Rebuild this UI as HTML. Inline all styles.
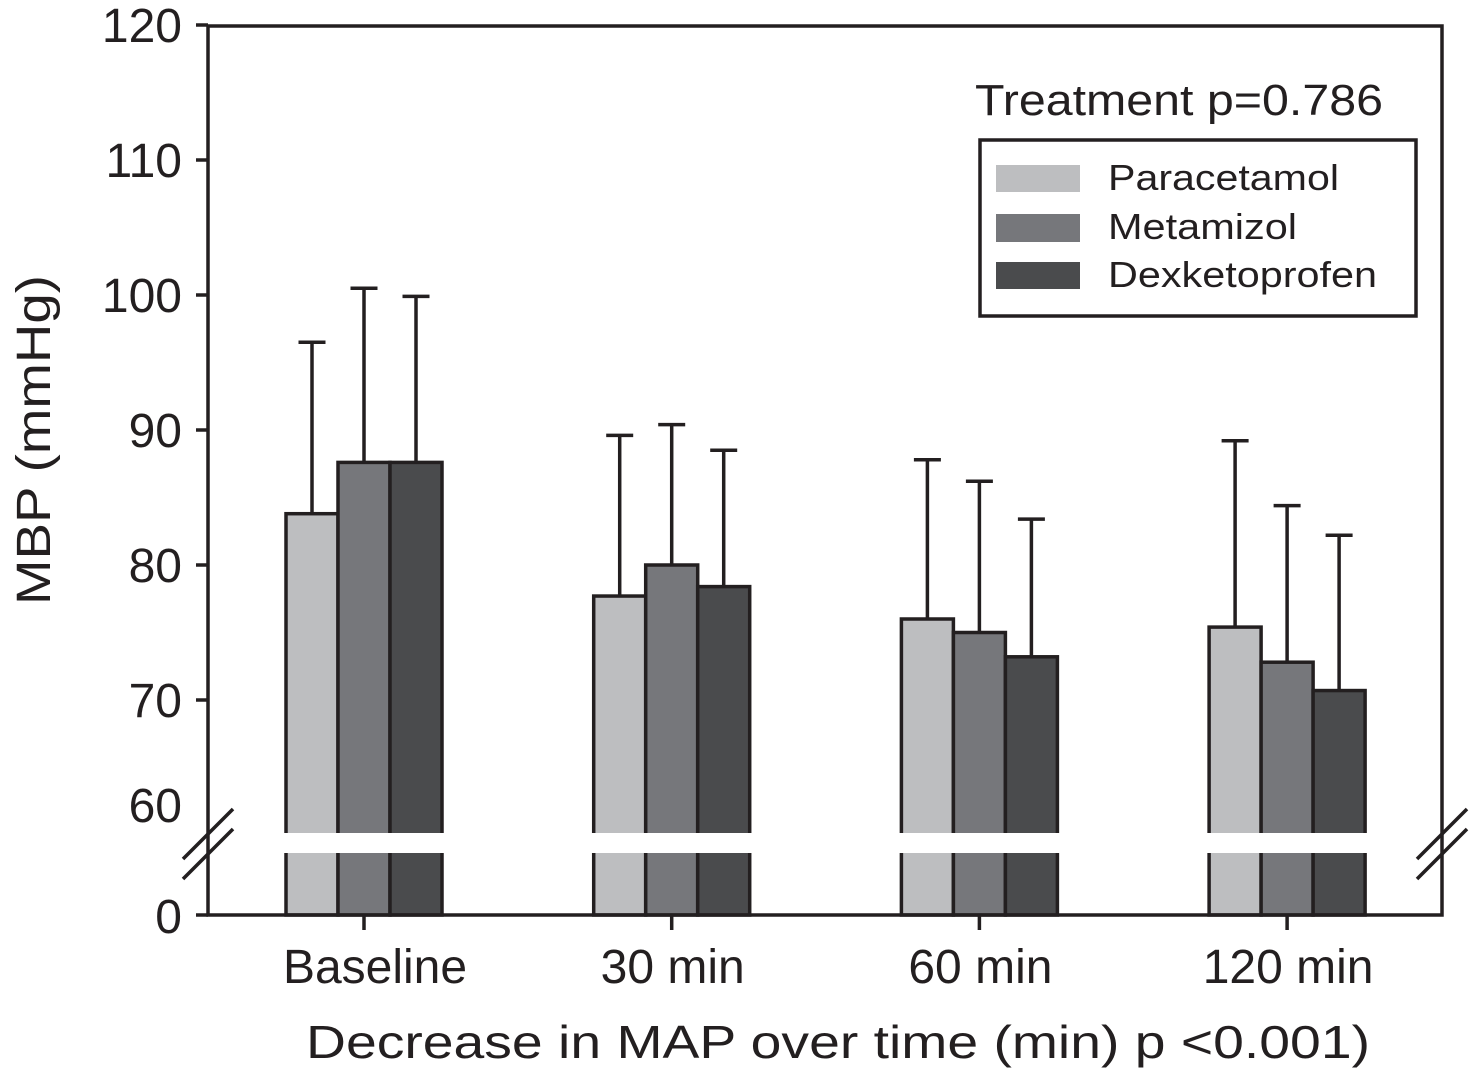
<!DOCTYPE html>
<html><head><meta charset="utf-8"><style>
html,body{margin:0;padding:0;background:#fff;}
svg{display:block;font-family:"Liberation Sans",Arial,sans-serif;}
</style></head><body>
<svg id="chart" width="1470" height="1087" viewBox="0 0 1470 1087" xmlns="http://www.w3.org/2000/svg">
<g id="bars"></g>
<g id="errs"></g>
<g id="axes"></g>
<text x="975" y="115" font-size="44" fill="#231f20" textLength="408" lengthAdjust="spacingAndGlyphs">Treatment p=0.786</text>
<g>
<rect x="980" y="140" width="436" height="176" fill="#fff" stroke="#231f20" stroke-width="3.5"/>
<rect x="996" y="165" width="84" height="27" fill="#bdbec0"/>
<rect x="996" y="214" width="84" height="28" fill="#76777b"/>
<rect x="996" y="262" width="84" height="27" fill="#4a4b4d"/>
<text x="1108" y="190" font-size="36" fill="#231f20" textLength="231" lengthAdjust="spacingAndGlyphs">Paracetamol</text>
<text x="1108" y="239" font-size="36" fill="#231f20" textLength="189" lengthAdjust="spacingAndGlyphs">Metamizol</text>
<text x="1108" y="287" font-size="36" fill="#231f20" textLength="269" lengthAdjust="spacingAndGlyphs">Dexketoprofen</text>
</g>
<text x="838" y="1058" font-size="46" fill="#231f20" text-anchor="middle" textLength="1064" lengthAdjust="spacingAndGlyphs">Decrease in MAP over time (min) p &lt;0.001)</text>
<text transform="translate(50,440) rotate(-90)" font-size="48" fill="#231f20" text-anchor="middle" textLength="330" lengthAdjust="spacingAndGlyphs">MBP (mmHg)</text>
</svg>
<script>
const categories = ["Baseline", "30 min", "60 min", "120 min"];
const seriesNames = ["Paracetamol", "Metamizol", "Dexketoprofen"];
const paracetamol = [83.8, 77.7, 76.0, 75.4];
const metamizol = [87.6, 80.0, 75.0, 72.8];
const dexketoprofen = [87.6, 78.4, 73.2, 70.7];
const paracetamolErr = [96.5, 89.6, 87.8, 89.2];
const metamizolErr = [100.5, 90.4, 86.2, 84.4];
const dexketoprofenErr = [99.9, 88.5, 83.4, 82.2];
const yTicks = [70, 80, 90, 100, 110, 120];
const yTickLabels = ["70", "80", "90", "100", "110", "120"];

const NS = "http://www.w3.org/2000/svg";
const INK = "#231f20";
const colors = ["#bdbec0", "#76777b", "#4a4b4d"];
const X0 = 208, X1 = 1442, YT = 26, YB = 915;
function yScale(v){ return 700 - (v - 70) * 13.5; }
function xGroup(i){ return 364 + i * 307.7; }
const BW = 52;
function mk(tag, attrs, parent){
  const el = document.createElementNS(NS, tag);
  for (const k in attrs) el.setAttribute(k, attrs[k]);
  parent.appendChild(el);
  return el;
}
const axes = document.getElementById("axes");
const bars = document.getElementById("bars");
const errs = document.getElementById("errs");
const vals = [paracetamol, metamizol, dexketoprofen];
const errv = [paracetamolErr, metamizolErr, dexketoprofenErr];

categories.forEach((c, i) => {
  vals.forEach((arr, s) => {
    const x = xGroup(i) - 1.5 * BW + s * BW;
    const y = yScale(arr[i]);
    const r = mk("rect", {x: x, y: y, width: BW, height: YB - y, fill: colors[s], stroke: INK, "stroke-width": 3.5}, bars);
    
    
    const cx = x + BW / 2, ey = yScale(errv[s][i]);
    const g = mk("g", {stroke: INK, "stroke-width": 3.5}, errs);
    
    
    mk("line", {x1: cx, y1: y, x2: cx, y2: ey}, g);
    mk("line", {x1: cx - 13.5, y1: ey, x2: cx + 13.5, y2: ey}, g);
  });
  const t = mk("line", {x1: xGroup(i), y1: YB, x2: xGroup(i), y2: YB + 15, stroke: INK, "stroke-width": 3.5}, axes);
  
  
  const lb = mk("text", {x: xGroup(i) + (i === 0 ? 11 : 1), y: 983, "font-size": 48, fill: INK, "text-anchor": "middle"}, axes);
  lb.textContent = c;
  
  
});
// break band
const band = mk("rect", {x: X0 + 2, y: 833, width: X1 - X0 - 4, height: 20, fill: "#fff"}, bars);



// axes frame
const frame = mk("path", {d: `M${X0},${YT} H${X1} V${YB} H${X0} Z`, fill: "none", stroke: INK, "stroke-width": 3.5}, axes);


yTicks.forEach((v, k) => {
  const y = yScale(v);
  const tk = mk("line", {x1: X0 - 12, y1: y, x2: X0, y2: y, stroke: INK, "stroke-width": 3.5}, axes);
  
  
  const tl = mk("text", {x: 182, y: y + 17, "font-size": 48, fill: INK, "text-anchor": "end"}, axes);
  tl.textContent = yTickLabels[k];
  
  
});
const l60 = mk("text", {x: 182, y: 822, "font-size": 48, fill: INK, "text-anchor": "end"}, axes);
l60.textContent = "60";


const t0 = mk("line", {x1: X0 - 12, y1: YB, x2: X0, y2: YB, stroke: INK, "stroke-width": 3.5}, axes);


const l0 = mk("text", {x: 182, y: YB + 18, "font-size": 48, fill: INK, "text-anchor": "end"}, axes);
l0.textContent = "0";


// break marks
[X0, X1].forEach((bx, j) => {
  const g = mk("g", {stroke: INK, "stroke-width": 3.5}, axes);
  
  
  mk("line", {x1: bx - 25, y1: 859, x2: bx + 25, y2: 809}, g);
  mk("line", {x1: bx - 25, y1: 879, x2: bx + 25, y2: 829}, g);
});
</script>
</body></html>
